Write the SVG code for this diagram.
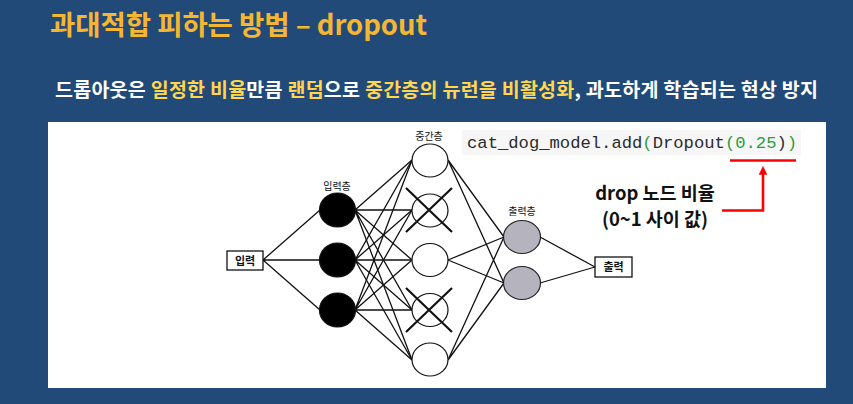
<svg xmlns="http://www.w3.org/2000/svg" width="853" height="404" viewBox="0 0 853 404">
  <style>
    .title { font-family: "Noto Sans CJK KR", "Noto Sans", sans-serif; font-weight: bold; font-size: 27.5px; fill: #f5b733; }
    .sub { font-family: "Noto Sans CJK KR", "Noto Sans", sans-serif; font-weight: bold; font-size: 19.5px; fill: #ffffff; }
    .hl { fill: #ffd64e; }
    .lbl { font-family: "Noto Sans CJK KR", sans-serif; font-size: 10px; fill: #111; text-anchor: middle; }
    .box { fill: #fff; stroke: #111; stroke-width: 1.3; }
    .boxtxt { font-family: "Noto Sans CJK KR", sans-serif; font-size: 11px; fill: #111; text-anchor: middle; font-weight: bold; }
    .edge { stroke: #111; stroke-width: 1.3; fill: none; }
    .inp { fill: #000; stroke: #111; stroke-width: 1.2; }
    .hid { fill: #fff; stroke: #111; stroke-width: 1.2; }
    .out { fill: #b5b3be; stroke: #222; stroke-width: 1.2; }
    .cross { stroke: #111; stroke-width: 2.2; }
    .code { font-family: "Liberation Mono", "DejaVu Sans Mono", monospace; font-size: 17.2px; fill: #2b2b2b; }
    .g { fill: #2c9c3f; }
    .note { font-family: "Noto Sans CJK KR", "Noto Sans", sans-serif; font-weight: bold; font-size: 18.5px; fill: #111; text-anchor: middle; }
    .red { stroke: #f00; stroke-width: 2.6; fill: none; }
  </style>
  <defs>
    <marker id="redhead" viewBox="0 0 10 10" refX="2" refY="5" markerWidth="3.4" markerHeight="3.4" orient="auto">
      <path d="M0,0 L10,5 L0,10 z" fill="#f00"/>
    </marker>
  </defs>

  <!-- slide background and white panel -->
  <rect x="0" y="0" width="853" height="404" fill="#214a78"/>
  <rect x="48" y="122" width="778" height="266" fill="#ffffff"/>

  <!-- headings -->
  <text class="title" x="50" y="35" textLength="377" lengthAdjust="spacing">과대적합 피하는 방법 – dropout</text>
  <text class="sub" x="55" y="97" textLength="763" lengthAdjust="spacing">드롭아웃은 <tspan class="hl">일정한 비율</tspan>만큼 <tspan class="hl">랜덤</tspan>으로 <tspan class="hl">중간층의 뉴런을 비활성화</tspan>, 과도하게 학습되는 현상 방지</text>

  <!-- connectors -->
  <g id="connectors">
    <path class="edge" d="M263,260 L320,210 M263,260 L320,260 M263,260 L320,310"/>
    <path class="edge" d="M355,210 L412,160 M355,210 L412,210 M355,210 L412,260 M355,210 L412,310 M355,210 L412,360"/>
    <path class="edge" d="M355,260 L412,160 M355,260 L412,210 M355,260 L412,260 M355,260 L412,310 M355,260 L412,360"/>
    <path class="edge" d="M355,310 L412,160 M355,310 L412,210 M355,310 L412,260 M355,310 L412,310 M355,310 L412,360"/>
    <path class="edge" d="M448,160 L504,237 M448,160 L504,283 M448,260 L504,237 M448,260 L504,283 M448,360 L504,237 M448,360 L504,283"/>
    <path class="edge" d="M540,237 L595,267 M540,283 L595,267"/>
  </g>

  <!-- input box -->
  <g id="input">
    <rect class="box" x="227" y="251" width="36" height="19"/>
    <text class="boxtxt" x="245" y="264.5">입력</text>
  </g>

  <!-- input layer -->
  <g id="input-layer">
    <text class="lbl" x="337" y="190">입력층</text>
    <ellipse class="inp" cx="337.5" cy="210" rx="18" ry="17"/>
    <ellipse class="inp" cx="337.5" cy="260" rx="18" ry="17"/>
    <ellipse class="inp" cx="337.5" cy="310" rx="18" ry="17"/>
  </g>

  <!-- hidden layer, two neurons dropped -->
  <g id="hidden-layer">
    <text class="lbl" x="429" y="140">중간층</text>
    <ellipse class="hid" cx="430" cy="160.5" rx="18" ry="16.5"/>
    <ellipse class="hid" cx="430" cy="210.5" rx="18" ry="16.5"/>
    <ellipse class="hid" cx="430" cy="260" rx="18" ry="16.5"/>
    <ellipse class="hid" cx="430" cy="310" rx="18" ry="16.5"/>
    <ellipse class="hid" cx="430" cy="359.5" rx="18" ry="16.5"/>
    <path class="cross" d="M406,232 L452,188 M406,188 L452,232"/>
    <path class="cross" d="M406,332 L452,288 M406,288 L452,332"/>
  </g>

  <!-- output layer -->
  <g id="output-layer">
    <text class="lbl" x="522" y="215">출력층</text>
    <ellipse class="out" cx="522" cy="237" rx="18.5" ry="16.5"/>
    <ellipse class="out" cx="522" cy="283" rx="18.5" ry="16.5"/>
  </g>

  <!-- output box -->
  <g id="output">
    <rect class="box" x="595" y="257" width="37" height="20"/>
    <text class="boxtxt" x="613.5" y="271">출력</text>
  </g>

  <!-- code line -->
  <g id="code">
    <rect x="462" y="130" width="339" height="25" fill="#f6f6f6"/>
    <text class="code" x="467" y="148">cat_dog_model.add<tspan class="g">(</tspan>Dropout<tspan class="g">(0.25</tspan>)<tspan class="g">)</tspan></text>
  </g>

  <!-- annotation -->
  <g id="note">
    <path class="red" d="M730,160.5 L796,160.5"/>
    <path class="red" d="M722,210.5 L763,210.5 L763,173" marker-end="url(#redhead)"/>
    <text class="note" x="655" y="200">drop 노드 비율</text>
    <text class="note" x="655" y="226">(0~1 사이 값)</text>
  </g>
</svg>
